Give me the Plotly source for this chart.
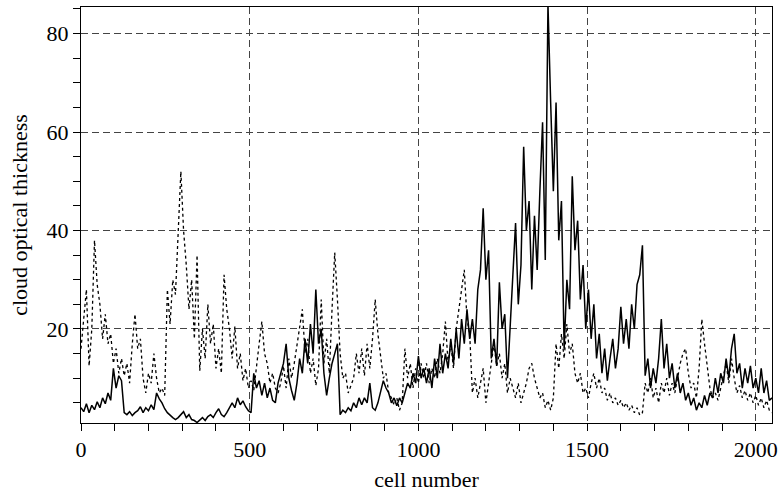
import plotly.graph_objects as go

STEP = 8
cells = list(range(0, 2049, STEP))

solid = [
    4.0, 3.2, 4.8, 3.0, 4.5, 3.6, 5.2, 4.0, 6.0, 4.8, 7.0, 5.5, 12.0, 8.0, 10.5, 9.5,
    3.0, 2.6, 3.2, 2.4, 3.0, 3.4, 4.2, 3.0, 4.0, 3.4, 4.6, 3.6, 7.0, 5.8, 5.0, 3.8,
    3.0, 2.4, 2.0, 1.6, 2.0, 2.6, 3.2, 2.0, 2.6, 1.6, 1.4, 1.0, 1.6, 2.0, 1.4, 2.2,
    2.6, 2.0, 3.0, 3.8, 2.6, 2.2, 3.0, 4.0, 5.0, 4.0, 6.0, 4.6, 5.4, 4.2, 3.4, 3.0,
    11.0, 8.0, 9.5, 6.5, 9.0, 6.0, 8.0, 5.5, 5.0, 9.0, 11.0, 13.0, 17.0, 10.0, 7.5, 5.5,
    9.0, 14.0, 11.0, 18.0, 13.0, 21.0, 15.0, 28.0, 17.0, 20.0, 11.0, 6.5, 10.0, 13.0, 15.0, 17.0,
    2.6, 3.5, 3.0, 4.0, 3.4, 5.0, 4.0, 6.0, 4.6, 6.0, 5.0, 9.0, 4.0, 3.5, 5.0, 7.0,
    9.5, 8.0, 7.0, 5.0, 6.0, 4.4, 6.0, 5.0, 7.0, 9.0, 8.0, 11.0, 9.0, 14.5, 10.0, 12.0,
    9.0, 12.0, 8.0, 14.0, 10.0, 17.0, 11.0, 15.0, 12.0, 18.0, 13.0, 20.0, 14.0, 22.0, 17.0, 24.0,
    18.0, 22.0, 17.0, 28.0, 32.0, 44.5, 30.0, 36.0, 14.0, 18.0, 12.5, 29.5, 20.0, 23.0, 10.0, 21.0,
    31.0, 41.5, 25.0, 33.0, 57.0, 40.0, 46.0, 28.0, 43.0, 32.0, 48.0, 62.0, 34.0, 86.0, 66.0, 48.0,
    66.0, 38.0, 46.0, 16.0, 30.0, 24.0, 51.0, 36.0, 42.0, 26.0, 33.0, 20.0, 28.0, 18.0, 25.0, 14.0,
    19.0, 11.0, 16.0, 9.5, 14.0, 18.0, 12.0, 16.0, 24.5, 17.0, 22.0, 16.0, 25.0, 20.0, 29.0, 31.0,
    37.0, 10.5, 14.0, 8.0, 12.0, 9.0, 14.0, 22.0, 12.0, 17.0, 10.0, 13.0, 8.0, 11.0, 7.0, 9.0,
    5.5, 7.0, 4.5, 6.0, 3.5, 5.0, 4.0, 6.5, 4.5, 7.0, 6.0, 10.0, 7.0, 11.0, 9.0, 14.0,
    10.0, 16.0, 19.0, 11.0, 13.0, 8.0, 12.0, 9.0, 12.5, 8.0, 10.0, 7.0, 12.0, 7.0, 9.5, 5.5,
    6.0,
]

dotted = [
    16.0, 22.0, 28.0, 12.5, 20.0, 38.0, 29.0, 25.0, 18.0, 23.0, 17.0, 19.0, 13.0, 16.0, 11.0, 14.0,
    10.5, 13.0, 9.0, 17.0, 23.0, 16.0, 18.0, 10.0, 7.0, 11.0, 9.0, 15.0, 10.0, 7.0, 8.0, 6.5,
    28.0, 21.0, 30.0, 27.0, 38.0, 52.0, 40.0, 33.0, 24.0, 30.0, 18.0, 35.0, 11.5, 20.0, 14.0, 25.0,
    17.0, 21.0, 12.0, 16.0, 11.0, 31.0, 24.0, 20.0, 14.0, 20.5, 12.0, 15.0, 9.5, 12.0, 8.0, 9.5,
    7.5, 13.0, 17.0, 21.5, 15.0, 13.0, 9.0, 11.0, 8.0, 7.0, 9.0, 12.5, 8.0, 14.0, 10.0, 13.0,
    17.0, 20.0, 24.0, 15.0, 18.0, 11.0, 14.0, 8.5, 12.0, 26.0, 13.0, 18.0, 11.0, 24.0, 35.5, 26.0,
    15.0, 10.0, 11.0, 7.0, 8.5, 10.0, 15.0, 11.0, 16.0, 10.5, 17.0, 12.0, 18.0, 26.0, 19.0, 14.0,
    10.0, 11.0, 7.0, 6.0, 4.5, 6.0, 3.5, 5.0, 16.0, 10.0, 13.0, 8.0, 12.0, 9.0, 13.0, 10.0,
    13.0, 9.0, 12.0, 10.0, 14.0, 11.0, 15.0, 21.5, 13.0, 17.0, 12.0, 20.0, 24.0, 28.0, 32.0, 22.0,
    19.0, 7.0, 10.0, 6.0, 9.0, 12.0, 5.0, 9.0, 13.0, 17.0, 12.5, 15.0, 10.0, 13.0, 7.0, 10.0,
    8.0, 6.0, 9.0, 5.0, 7.0, 9.0, 12.0, 13.0, 10.0, 8.0, 6.0, 7.0, 4.0, 5.5, 3.5, 6.0,
    17.0, 12.0, 19.0, 14.0, 21.0, 15.0, 17.0, 11.0, 9.0, 11.0, 7.0, 8.0, 6.0, 9.0, 11.0, 8.0,
    10.0, 7.0, 8.0, 5.5, 7.0, 5.0, 6.0, 4.5, 5.5, 4.0, 5.0, 3.5, 4.5, 3.0, 4.0, 2.5,
    3.0, 9.0, 7.0, 10.0, 6.0, 8.0, 5.0, 9.0, 7.0, 10.0, 6.5, 9.0, 7.0, 10.0, 13.0, 15.0,
    16.0, 11.0, 8.0, 9.0, 6.0, 12.0, 22.0, 17.0, 12.0, 8.0, 6.0, 7.0, 5.5, 8.0, 11.0, 13.0,
    9.0, 14.0, 10.0, 7.0, 8.5, 6.0, 7.5, 5.5, 7.0, 5.0, 6.5, 4.5, 6.0, 4.0, 5.5, 3.5,
    3.0,
]

x_tick_vals = [0, 500, 1000, 1500, 2000]
y_tick_vals = [20, 40, 60, 80]

FONT = "Liberation Serif, Times New Roman, serif"
FS = 22

fig = go.Figure()
fig.add_trace(go.Scatter(x=cells, y=dotted, mode="lines",
                         line=dict(color="black", width=1.3, dash="dot"),
                         showlegend=False))
fig.add_trace(go.Scatter(x=cells, y=solid, mode="lines",
                         line=dict(color="black", width=1.5),
                         showlegend=False))

axis_common = dict(
    showline=True, linecolor="black", linewidth=1, mirror=True,
    ticks="outside", ticklen=7, tickcolor="black", tickwidth=1,
    showgrid=True, gridcolor="#444444", gridwidth=1, griddash="7px,4px",
    zeroline=False,
    tickfont=dict(family=FONT, size=FS, color="black"),
)

fig.update_xaxes(
    range=[0, 2048], tickmode="array", tickvals=x_tick_vals,
    ticktext=[str(v) for v in x_tick_vals],
    minor=dict(dtick=100, tick0=0, ticks="outside", ticklen=7, tickcolor="black", showgrid=False),
    title=dict(text="cell number", font=dict(family=FONT, size=FS, color="black"), standoff=10),
    **axis_common,
)
fig.update_yaxes(
    range=[0.9, 85.4], tickmode="array", tickvals=y_tick_vals,
    ticktext=[str(v) for v in y_tick_vals],
    minor=dict(dtick=5, tick0=0, ticks="outside", ticklen=7, tickcolor="black", showgrid=False),
    title=dict(text="cloud optical thickness", font=dict(family=FONT, size=FS, color="black"), standoff=12),
    **axis_common,
)

fig.update_layout(
    width=784, height=494,
    margin=dict(l=81, r=7, t=6, b=69),
    paper_bgcolor="white", plot_bgcolor="white",
    font=dict(family=FONT, size=FS, color="black"),
)

fig.write_html("out.html")
